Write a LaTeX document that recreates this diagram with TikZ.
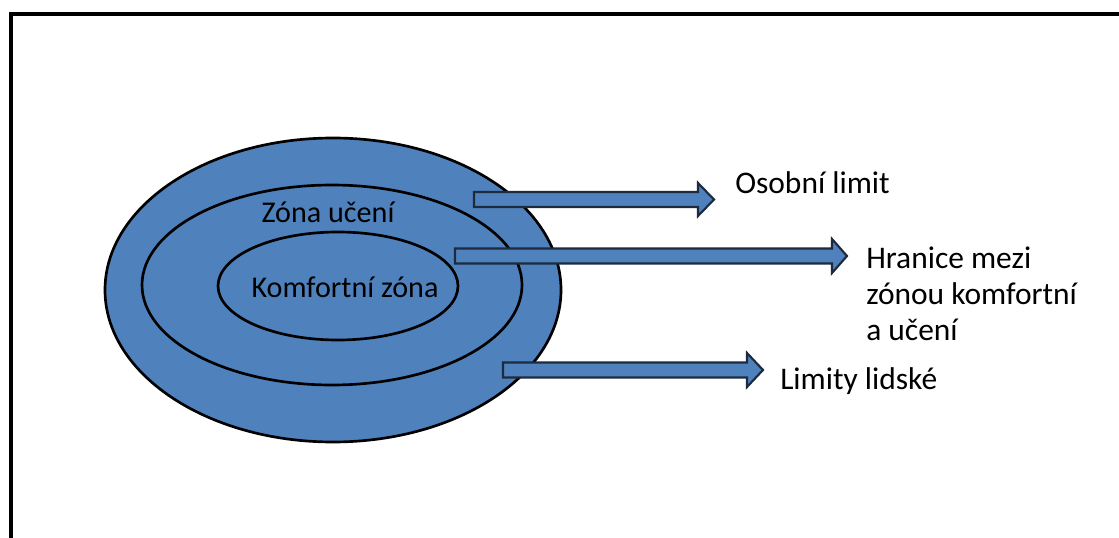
\documentclass[tikz,border=0pt]{standalone}
\usepackage{fontspec}
\setmainfont{Carlito}
\definecolor{zonefill}{HTML}{4F81BD}
\definecolor{arrowline}{HTML}{1C2B3F}
\begin{document}
\begin{tikzpicture}[x=0.75pt,y=-0.75pt,
  zone/.style={draw=black,line width=2pt,fill=zonefill},
  blockarrow/.style={draw=arrowline,line width=1.6pt,fill=zonefill,line join=miter},
  lbl/.style={font=\fontsize{22.6}{27}\selectfont,inner sep=0pt},
  side/.style={font=\fontsize{23.6}{27}\selectfont,inner sep=0pt,anchor=west,align=left}]
\useasboundingbox (0,0) rectangle (1119,538);
% frame (top and left edges visible)
\draw[line width=3pt] (11,560) -- (11,14) -- (1130,14);
% zones
\draw[zone] (333,290) ellipse [x radius=228, y radius=152];
\draw[zone] (332,285) ellipse [x radius=190, y radius=100];
\draw[zone] (338,286) ellipse [x radius=120, y radius=54];
\node[lbl] (learn) at (328,212) {Zóna učení};
\node[lbl] (comfort) at (345,287) {Komfortní zóna};
% block arrows
\draw[blockarrow] (474,192) -- (698,192) -- (698,183) -- (714,199.5) -- (698,216) -- (698,207) -- (474,207) -- cycle;
\draw[blockarrow] (455,248.5) -- (832,248.5) -- (832,239) -- (847,256) -- (832,273) -- (832,263.5) -- (455,263.5) -- cycle;
\draw[blockarrow] (503,362.5) -- (747,362.5) -- (747,353) -- (763,370) -- (747,387) -- (747,377.5) -- (503,377.5) -- cycle;
% labels
\node[side] (personal) at (735,183) {Osobní limit};
\node[side,text depth=0pt] (border) at (866,294) {Hranice mezi\\zónou komfortní\\a učení};
\node[side] (human) at (780,381) {Limity lidské};
\end{tikzpicture}
\end{document}
